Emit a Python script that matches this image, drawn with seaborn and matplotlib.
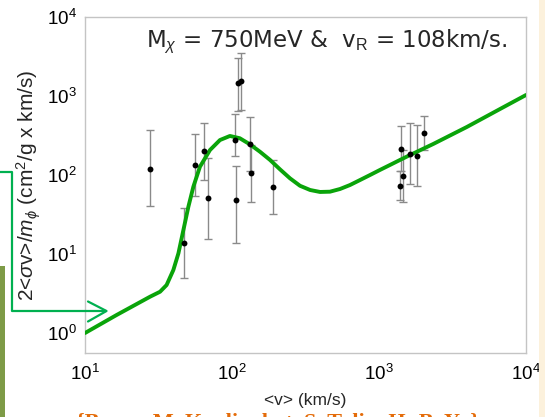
import matplotlib
matplotlib.use("Agg")
import matplotlib.pyplot as plt
import seaborn as sns
import numpy as np
from matplotlib import font_manager as fm
from matplotlib.lines import Line2D
from matplotlib.patches import Rectangle

# observed halo points (km/s, cm^2/g x km/s) with error bar ends
v_obs = [27.7, 47.4, 55.7, 64.9, 69.0, 105.5, 107.0, 109.0, 116.0, 132.6,
         134.5, 191.0, 1390.0, 1406.0, 1465.0, 1626.0, 1815.0, 2023.0]
sig_obs = [120, 13.6, 135, 200, 51, 280, 48, 1460, 1550, 249,
           105, 71, 73, 214, 96, 186, 174, 343]
sig_lo = [40, 4.9, 55, 86, 15.6, 172, 13.8, 655, 665, 113,
          45, 32, 48, 111, 46, 78, 72, 207]
sig_hi = [368, 37.8, 333, 458, 165, 597, 131, 3000, 3500, 550,
          242, 156, 111, 416, 207, 450, 428, 565]

# model curve
curve_v = [10, 16.4, 27.7, 32.4, 35.9, 39.9, 43.2, 46.7, 50.5, 54.6,
           60.5, 70.8, 82.8, 96.8, 113, 132.6, 155, 181.5, 212, 248, 290,
           340, 397, 464, 543, 635, 743, 869, 1016, 1188, 1389, 1626, 2339,
           3954, 6653, 10000]
curve_s = [1.0, 1.69, 2.88, 3.33, 4.05, 6.27, 10.2, 20.1, 39.7, 71.1,
           127, 207, 277, 312, 292, 244, 197, 155, 118, 90.8, 73.1,
           64.6, 61, 61.5, 66.5, 74.7, 86.4, 100, 116, 134, 155, 179, 247,
           405, 684, 1030]

x_ticks = [1e1, 1e2, 1e3, 1e4]
x_ticklabels = ["$10^{1}$", "$10^{2}$", "$10^{3}$", "$10^{4}$"]
y_ticks = [1e0, 1e1, 1e2, 1e3, 1e4]
y_ticklabels = ["$10^{0}$", "$10^{1}$", "$10^{2}$", "$10^{3}$", "$10^{4}$"]

sns.set_style("white")
names = {f.name for f in fm.fontManager.ttflist}
narrow = "Liberation Sans Narrow" if "Liberation Sans Narrow" in names else "Liberation Sans"
plt.rcParams["font.family"] = [narrow, "DejaVu Sans"]
plt.rcParams["mathtext.fontset"] = "custom"
plt.rcParams["mathtext.rm"] = narrow
plt.rcParams["mathtext.it"] = narrow + ":italic"
plt.rcParams["mathtext.bf"] = narrow + ":bold"

W, H = 545, 417
fig = plt.figure(figsize=(W / 100, H / 100), dpi=100)
fig.patch.set_facecolor("white")
ax = fig.add_axes([85 / W, 64 / H, 441 / W, 336 / H])

err = np.array([np.array(sig_obs) - np.array(sig_lo),
                np.array(sig_hi) - np.array(sig_obs)])
ax.errorbar(v_obs, sig_obs, yerr=err, fmt="none", ecolor="#8a8a8a",
            elinewidth=1.0, capsize=3, capthick=1.0, zorder=2)
sns.lineplot(x=curve_v, y=curve_s, ax=ax, color="#0aa40a", lw=2.8,
             sort=False, zorder=3)
sns.scatterplot(x=v_obs, y=sig_obs, ax=ax, color="black", s=18,
                edgecolor="black", linewidth=0, zorder=4)

ax.set_xscale("log")
ax.set_yscale("log")
ax.set_xlim(10, 1e4)
ax.set_ylim(10 ** -0.253, 1e4)
ax.set_xticks(x_ticks)
ax.set_xticklabels(x_ticklabels)
ax.set_yticks(y_ticks)
ax.set_yticklabels(y_ticklabels)
ax.minorticks_off()
ax.tick_params(direction="in", length=4, width=0.8, color="#b0b0b0",
               labelsize=13.5, labelcolor="black")
ax.tick_params(axis="x", pad=8)
ax.tick_params(axis="y", pad=6)
for s in ax.spines.values():
    s.set_color("#c4c4c4")
    s.set_linewidth(1.0)

ax.set_xlabel("<v> (km/s)", fontsize=12.5)
ax.xaxis.set_label_coords(0.5, -40 / 336, transform=ax.transAxes)
ax.set_ylabel("2<$\\sigma$v>/$m_{\\phi}$ (cm$^{\\mathrm{2}}$/g x km/s)",
              fontsize=15, family="Liberation Sans")
ax.yaxis.set_label_coords(-42 / 441, 0.5, transform=ax.transAxes)

fig.text(146 / W, 1 - 47 / H, "M$_{\\chi}$ = 750MeV &  v$_{\\mathrm{R}}$ = 108km/s.",
         fontsize=16.5, family="DejaVu Sans", ha="left", va="baseline")

# slide decorations around the chart
tr = fig.transFigure
def px(xs, ys):
    return [x / W for x in xs], [1 - y / H for y in ys]

green = "#00b050"
xs, ys = px([0, 12, 12, 106], [172, 172, 311, 311])
fig.add_artist(Line2D(xs, ys, transform=tr, color=green, lw=1.6))
xs, ys = px([88, 106.5, 88], [301.5, 311, 321.5])
fig.add_artist(Line2D(xs, ys, transform=tr, color=green, lw=1.6))

fig.add_artist(Rectangle((0, 0), 4.5 / W, (H - 266) / H, transform=tr,
                         color="#7e9b47", lw=0))
fig.add_artist(Rectangle((539 / W, 0), 6 / W, 1, transform=tr,
                         color="#fcf1dc", lw=0))
fig.text(76 / W, 1 - 413 / H, "{Bruce, M. Kaplinghat, S. Tulin, H.-B. Yu}",
         fontsize=16, family="Liberation Serif", weight="bold",
         color="#e46c0a", ha="left", va="top")

fig.savefig("out.png", dpi=100)
